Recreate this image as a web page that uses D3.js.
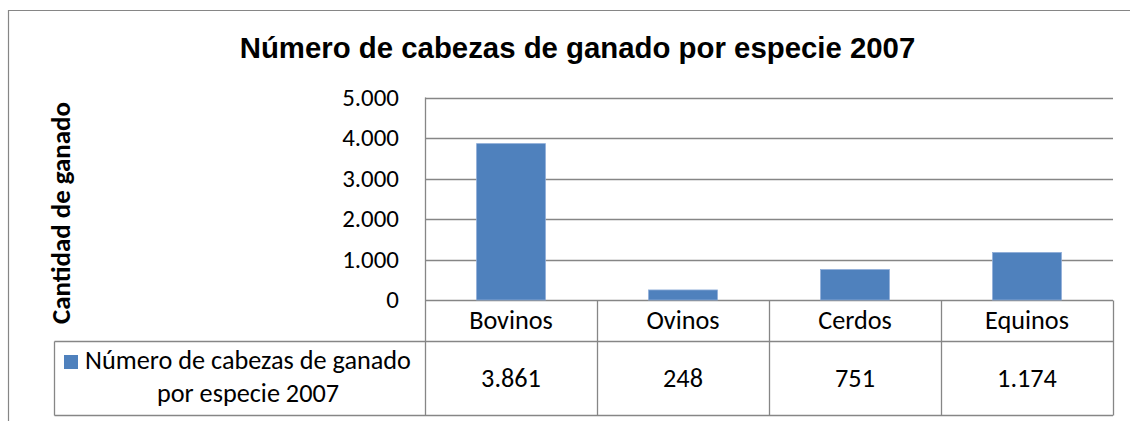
<!DOCTYPE html>
<html><head><meta charset="utf-8">
<script src="https://cdn.jsdelivr.net/npm/d3@7"></script>
<style>body{margin:0;background:#fff}svg{display:block}</style>
</head><body>
<svg id="c" width="1130" height="421"></svg>
<script>
const title = "Número de cabezas de ganado por especie 2007";
const yTitle = "Cantidad de ganado";
const seriesName = ["Número de cabezas de ganado", "por especie 2007"];
const categories = ["Bovinos", "Ovinos", "Cerdos", "Equinos"];
const values = [3861, 248, 751, 1174];
const yTicks = [0, 1000, 2000, 3000, 4000, 5000];

const loc = d3.formatLocale({decimal: ",", thousands: ".", grouping: [3], currency: ["", ""]});
const fmt = loc.format(",d");

const svg = d3.select("#c");
const grid = "#868686";
const body = "Carlito, Lato, 'Open Sans', sans-serif";
const head = "'Liberation Sans', Arimo, Arial, sans-serif";

// fit a font size so a sample string has a given width
function fitSize(family, weight, sample, target) {
  const t = svg.append("text").attr("font-family", family).attr("font-weight", weight)
    .attr("font-size", 100).text(sample);
  const w = t.node().getComputedTextLength();
  t.remove();
  return 100 * target / w;
}
const fsBody = fitSize(body, "normal", seriesName[0], 326);
const fsAxis = fitSize(body, "bold", yTitle, 222);
const fsTitle = fitSize(head, "bold", title, 676);

const x = d3.scaleBand().domain(categories).range([425, 1113]).paddingInner(0.6).paddingOuter(0.3);
const xb = d3.scaleBand().domain(categories).range([425, 1113]);
const y = d3.scaleLinear().domain([0, 5000]).range([300, 97.5]);

// outer chart frame
svg.append("path").attr("d", "M8.5,421V10.5H1130").attr("fill", "none").attr("stroke", grid).attr("stroke-width", 1.2);

// title
svg.append("text").attr("x", 577.5).attr("y", 58).attr("text-anchor", "middle")
  .attr("font-family", head).attr("font-weight", "bold")
  .attr("font-size", fsTitle).attr("fill", "#000").text(title);

// gridlines
svg.append("g").selectAll("line").data(yTicks).join("line")
  .attr("x1", 425).attr("x2", 1113)
  .attr("y1", d => Math.round(y(d)) + 0.5).attr("y2", d => Math.round(y(d)) + 0.5)
  .attr("stroke", grid).attr("stroke-width", 1.3);

// tick labels
svg.append("g").selectAll("text").data(yTicks).join("text")
  .attr("x", 399).attr("y", d => Math.round(y(d)) + 7.5).attr("text-anchor", "end")
  .attr("font-family", body).attr("font-size", fsBody * 0.95).attr("fill", "#000")
  .text(d => fmt(d));

// y axis title
svg.append("text").attr("transform", "translate(70,213) rotate(-90)").attr("text-anchor", "middle")
  .attr("font-family", body).attr("font-weight", "bold").attr("font-size", fsAxis).attr("fill", "#000")
  .text(yTitle);

// bars
svg.append("g").selectAll("rect").data(values).join("rect")
  .attr("x", (d, i) => x(categories[i]))
  .attr("width", x.bandwidth())
  .attr("y", d => y(d)).attr("height", d => y(0) - y(d))
  .attr("fill", "#4F81BD").attr("stroke", "#8EACD8").attr("stroke-width", 0.8);

// data table
const rowTop = 300.5, rowMid = 341.5, rowBot = 415.5, legLeft = 54.5;
const tbl = svg.append("g").attr("stroke", grid).attr("stroke-width", 1.3).attr("fill", "none");
tbl.append("line").attr("x1", legLeft).attr("x2", 1113).attr("y1", rowMid).attr("y2", rowMid);
tbl.append("line").attr("x1", legLeft).attr("x2", 1113).attr("y1", rowBot).attr("y2", rowBot);
tbl.append("line").attr("x1", legLeft).attr("x2", legLeft).attr("y1", rowMid).attr("y2", rowBot);
tbl.append("line").attr("x1", 425.5).attr("x2", 425.5).attr("y1", y(5000)).attr("y2", rowBot);
tbl.selectAll(".v").data(categories).join("line")
  .attr("x1", d => Math.round(xb(d) + xb.bandwidth()) + 0.5)
  .attr("x2", d => Math.round(xb(d) + xb.bandwidth()) + 0.5)
  .attr("y1", rowTop).attr("y2", rowBot);

// category labels
svg.append("g").selectAll("text").data(categories).join("text")
  .attr("x", d => xb(d) + xb.bandwidth() / 2).attr("y", 328.5).attr("text-anchor", "middle")
  .attr("font-family", body).attr("font-size", fsBody).attr("fill", "#000").text(d => d);

// values
svg.append("g").selectAll("text").data(values).join("text")
  .attr("x", (d, i) => xb(categories[i]) + xb.bandwidth() / 2).attr("y", 386.5).attr("text-anchor", "middle")
  .attr("font-family", body).attr("font-size", fsBody).attr("fill", "#000").text(d => fmt(d));

// legend key + series name
svg.append("rect").attr("x", 64).attr("y", 355).attr("width", 14).attr("height", 14).attr("fill", "#4F81BD");
svg.append("g").selectAll("text").data(seriesName).join("text")
  .attr("x", 248).attr("y", (d, i) => 369 + i * 33).attr("text-anchor", "middle")
  .attr("font-family", body).attr("font-size", fsBody).attr("fill", "#000").text(d => d);
</script>
</body></html>
